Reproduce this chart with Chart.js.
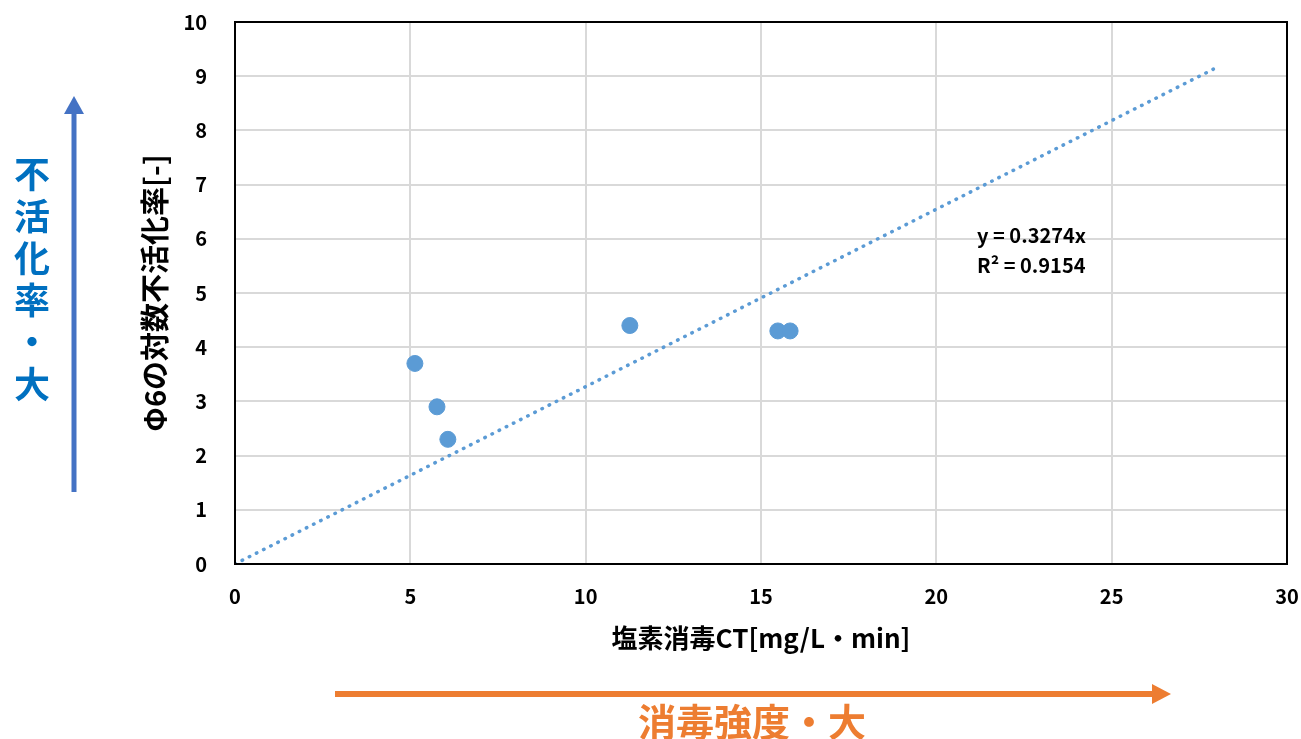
<!DOCTYPE html>
<html>
<head>
<meta charset="utf-8">
<script src="https://cdn.jsdelivr.net/npm/chart.js@4.4.0/dist/chart.umd.min.js"></script>
<style>
  body { margin: 0; background: #fff; }
  #wrap { width: 1301px; height: 739px; }
</style>
</head>
<body>
<div id="wrap"><canvas id="chart1"></canvas></div>
<script>
// 塩素消毒CT vs φ6の対数不活化率
let ctValues = [5.13, 5.76, 6.07, 11.26, 15.48, 15.83];
let logInact = [3.7, 2.9, 2.3, 4.4, 4.3, 4.3];
let trendX = [0, 27.9];
let trendY = [0, 9.13];
let eqLines = ["y = 0.3274x", "R² = 0.9154"];

const blue = "#5B9BD5";
const font = "'Noto Sans CJK JP', sans-serif";

const decor = {
  id: "decor",
  afterDraw(chart) {
    const c = chart.ctx, a = chart.chartArea;
    c.save();
    // plot border
    c.strokeStyle = "#000";
    c.lineWidth = 2;
    c.strokeRect(a.left, a.top, a.right - a.left, a.bottom - a.top);

    // trendline equation
    c.fillStyle = "#000";
    c.font = "bold 20px " + font;
    c.textBaseline = "alphabetic";
    c.fillText(eqLines[0], 977, 243);
    c.fillText(eqLines[1], 977, 273);

    // blue arrow (up)
    c.strokeStyle = "#4472C4";
    c.fillStyle = "#4472C4";
    c.lineWidth = 5;
    c.beginPath(); c.moveTo(74, 492); c.lineTo(74, 110); c.stroke();
    c.beginPath(); c.moveTo(64, 114); c.lineTo(74, 96); c.lineTo(84, 114); c.closePath(); c.fill();

    // vertical text
    c.fillStyle = "#0070C0";
    c.font = "bold 36px " + font;
    c.textAlign = "center";
    c.textBaseline = "middle";
    const vt = ["不", "活", "化", "率", "・", "大"];
    vt.forEach((ch, i) => c.fillText(ch, 32, 174 + i * 42));

    // orange arrow (right)
    c.strokeStyle = "#ED7D31";
    c.fillStyle = "#ED7D31";
    c.lineWidth = 6;
    c.beginPath(); c.moveTo(335, 694); c.lineTo(1155, 694); c.stroke();
    c.beginPath(); c.moveTo(1152, 684); c.lineTo(1171, 694); c.lineTo(1152, 704); c.closePath(); c.fill();
    c.font = "bold 38px " + font;
    c.textBaseline = "middle";
    c.fillText("消毒強度・大", 752, 722);
    c.restore();
  }
};

new Chart("chart1", {
  type: "scatter",
  data: {
    datasets: [{
      label: "data",
      data: ctValues.map((x, i) => ({ x: x, y: logInact[i] })),
      backgroundColor: blue,
      borderColor: blue,
      pointRadius: 8,
      pointHoverRadius: 8,
      order: 1
    }, {
      label: "trend",
      type: "line",
      data: trendX.map((x, i) => ({ x: x, y: trendY[i] })),
      borderColor: blue,
      borderWidth: 3.5,
      borderDash: [0.5, 7.5],
      borderCapStyle: "round",
      pointRadius: 0,
      fill: false,
      order: 2
    }]
  },
  options: {
    responsive: true,
    maintainAspectRatio: false,
    animation: false,
    layout: { padding: { left: 120, top: 22, right: 14, bottom: 75 } },
    plugins: { legend: { display: false }, tooltip: { enabled: false } },
    scales: {
      x: {
        type: "linear",
        min: 0, max: 30,
        ticks: { stepSize: 5, color: "#000", font: { family: font, size: 20, weight: "bold" }, padding: 20 },
        grid: { color: "#D9D9D9", lineWidth: 2, drawTicks: false },
        border: { display: false },
        title: { display: true, text: "塩素消毒CT[mg/L・min]", color: "#000", font: { family: font, size: 26, weight: "bold" }, padding: { top: 0, bottom: 10 } },
        afterFit: s => { s.height = 100; s.paddingLeft = 0; s.paddingRight = 0; }
      },
      y: {
        min: 0, max: 10,
        ticks: { stepSize: 1, color: "#000", font: { family: font, size: 20, weight: "bold" }, padding: 28 },
        grid: { color: "#D9D9D9", lineWidth: 2, drawTicks: false },
        border: { display: false },
        title: { display: true, text: "Φ6の対数不活化率[-]", color: "#000", font: { family: font, size: 29, weight: "bold" }, padding: { top: 18, bottom: 0 } },
        afterFit: s => { s.width = 115; s.paddingTop = 0; s.paddingBottom = 0; }
      }
    }
  },
  plugins: [decor]
});
</script>
</body>
</html>
